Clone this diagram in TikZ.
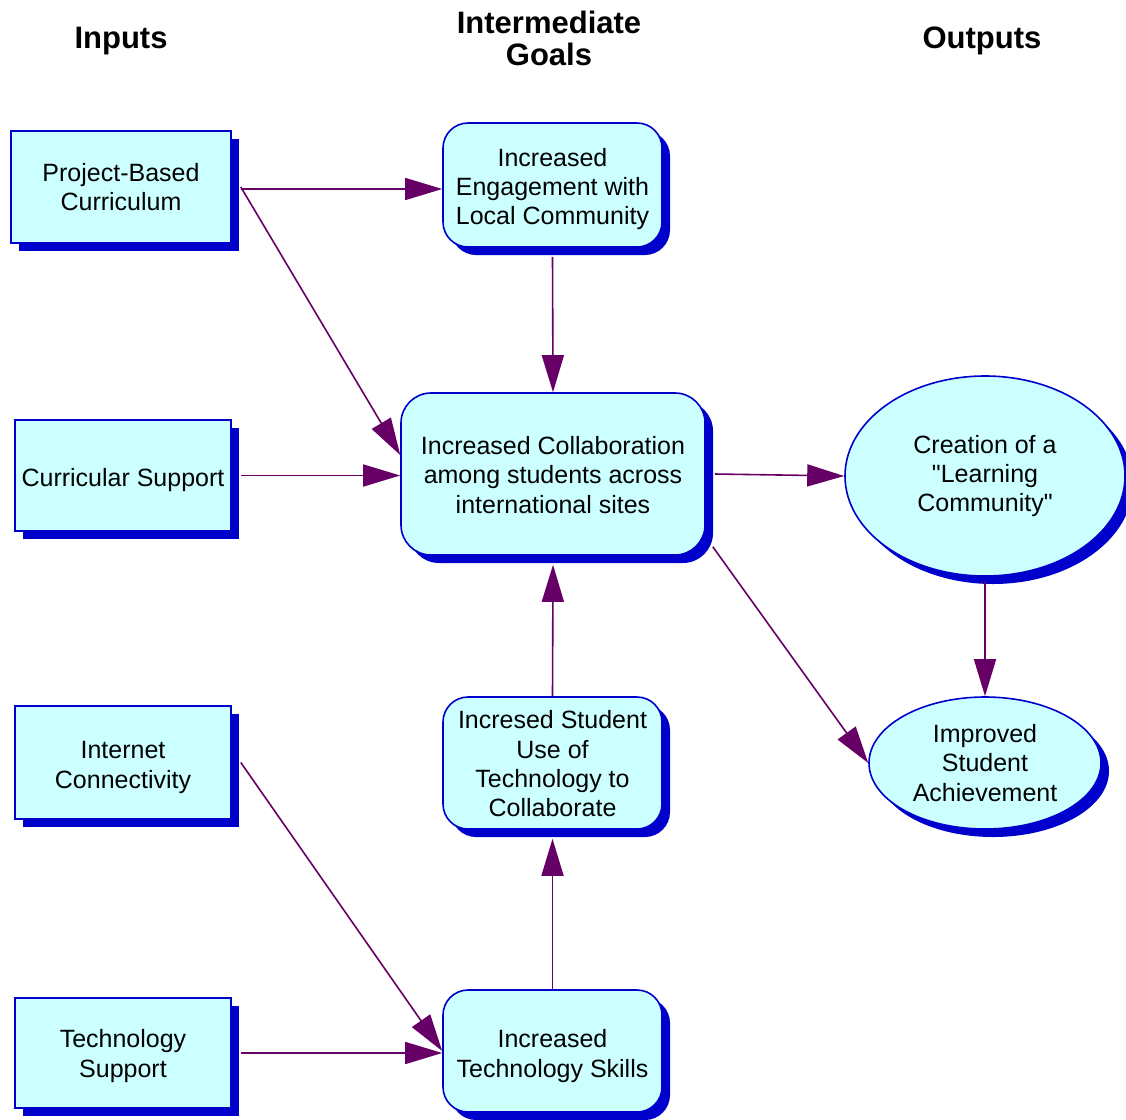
\documentclass[tikz,border=0pt]{standalone}
\usepackage{fontspec}
\setmainfont{Liberation Sans}
\newfontfamily\qfont{Liberation Sans}
\usetikzlibrary{shapes.geometric,shadows,arrows.meta}
\definecolor{boxfill}{HTML}{CCFFFF}
\definecolor{boxline}{HTML}{0000CC}
\definecolor{arrowcol}{HTML}{660066}
\tikzset{
 base/.style={draw=boxline, fill=boxfill, line width=1.6pt, inner sep=0pt,
   drop shadow={shadow xshift=8pt, shadow yshift=-8pt, fill=boxline, opacity=1}},
 inbox/.style={base, rectangle},
 goalbox/.style={base, rectangle, rounded corners=25pt},
 outell/.style={base, ellipse},
 txt/.style={align=center, font=\fontsize{25}{29.3}\selectfont, inner sep=0pt},
 conn/.style={draw=arrowcol, line width=1.6pt, -{Triangle[length=37pt,width=22pt]}},
 header/.style={font=\fontsize{31}{32}\selectfont\bfseries, align=center}
}
\newcommand{\dq}{{\qfont"}}
\begin{document}
\begin{tikzpicture}[x=1pt,y=-1pt]
\useasboundingbox (0,0) rectangle (1126,1119);
% headers
\node[header] (hin) at (121,41) {Inputs};
\node[header] (hmid) at (549,38) {Intermediate\\Goals};
\node[header] (hout) at (982,41) {Outputs};
% inputs
\node[inbox, minimum width=220pt, minimum height=112pt] (pbc) at (121,187) {};
\node[txt] (pbc-t) at (pbc.center) {Project-Based\\Curriculum};
\node[inbox, minimum width=216pt, minimum height=111pt] (cs) at (123,475.5) {};
\node[txt] (cs-t) at ([yshift=-5pt]cs.center) {Curricular Support};
\node[inbox, minimum width=216pt, minimum height=113pt] (ic) at (123,762.5) {};
\node[txt] (ic-t) at ([yshift=-5pt]ic.center) {Internet\\Connectivity};
\node[inbox, minimum width=216pt, minimum height=110pt] (ts) at (123,1053) {};
\node[txt] (ts-t) at ([yshift=-3pt]ts.center) {Technology\\Support};
% goals
\node[goalbox, minimum width=219pt, minimum height=124pt] (eng) at (552.5,185) {};
\node[txt] (eng-t) at ([yshift=-4pt]eng.center) {Increased\\Engagement with\\Local Community};
\node[goalbox, rounded corners=30pt, minimum width=304pt, minimum height=162pt] (col) at (553,474) {};
\node[txt] (col-t) at ([yshift=-1pt]col.center) {Increased Collaboration\\among students across\\international sites};
\node[goalbox, minimum width=219pt, minimum height=132pt] (su) at (552.5,763) {};
\node[txt] (su-t) at ([yshift=-1pt]su.center) {Incresed Student\\Use of\\Technology to\\Collaborate};
\node[goalbox, minimum width=219pt, minimum height=122pt] (tsk) at (552.5,1051) {};
\node[txt] (tsk-t) at ([yshift=-5pt]tsk.center) {Increased\\Technology Skills};
% outputs
\node[outell, minimum width=280pt, minimum height=200pt] (cre) at (985,476) {};
\node[txt] (cre-t) at (cre.center) {Creation of a\\\dq Learning\\Community\dq};
\node[outell, minimum width=232pt, minimum height=132pt] (imp) at (985,763) {};
\node[txt] (imp-t) at (imp.center) {Improved\\Student\\Achievement};
% connectors
\draw[conn] ([xshift=9pt,yshift=-2pt]pbc.east) -- ([yshift=-4pt]eng.west);
\draw[conn] ([xshift=9pt]pbc.east) -- ([yshift=19pt]col.west);
\draw[conn] ([xshift=9pt]cs.east) -- (cs.east -| col.west);
\draw[conn] ([yshift=-9pt]eng.south) -- (col.north);
\draw[conn] ([xshift=9pt]col.east) -- (cre.west);
\draw[conn] ([xshift=7pt,yshift=9pt]col.south east) -- (imp.west);
\draw[conn] ([yshift=-4pt]cre.south) -- (imp.north);
\draw[conn] (su.north) -- ([yshift=-9pt]col.south);
\draw[conn] (tsk.north) -- ([yshift=-9pt]su.south);
\draw[conn] ([xshift=9pt]ic.east) -- (tsk.west);
\draw[conn] ([xshift=9pt]ts.east) -- (ts.east -| tsk.west);
\end{tikzpicture}
\end{document}
